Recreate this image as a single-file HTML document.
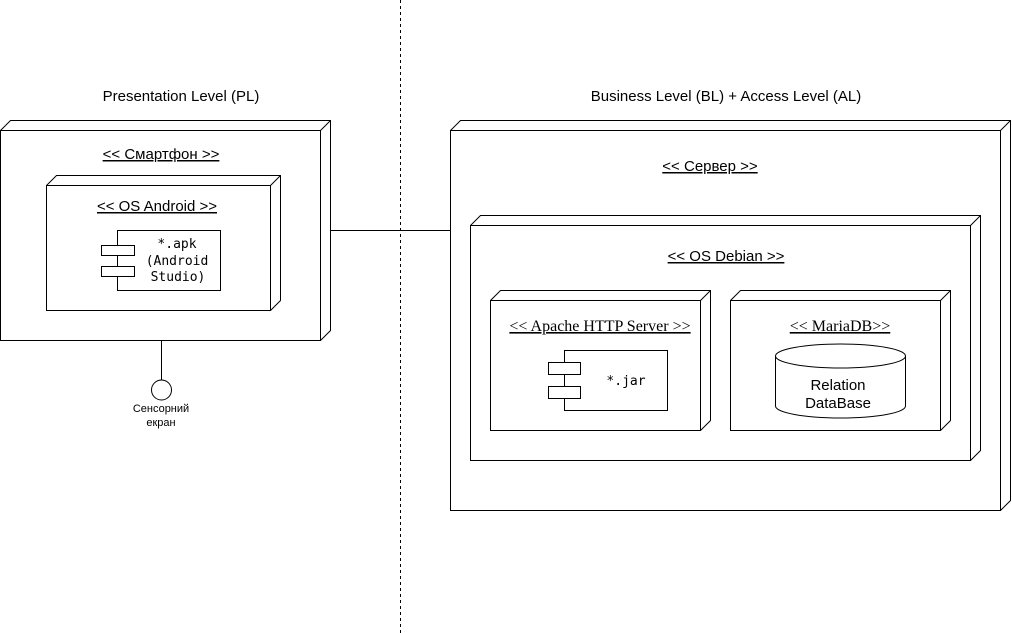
<!DOCTYPE html>
<html><head><meta charset="utf-8"><style>
html,body{margin:0;padding:0;background:#fff;}
svg{display:block;}
text{font-family:"Liberation Sans",sans-serif;fill:#000;}
.m{font-family:"DejaVu Sans Mono","Liberation Mono",monospace;}
.s{font-family:"Liberation Serif",serif;}
</style></head><body>
<svg width="1012" height="633" viewBox="0 0 1012 633" xmlns="http://www.w3.org/2000/svg">
<g fill="none" stroke="#000" stroke-width="1">
<line x1="400.5" y1="0" x2="400.5" y2="633" stroke-dasharray="3,3"/>
<line x1="330" y1="230.5" x2="450" y2="230.5"/>
<line x1="161.5" y1="340" x2="161.5" y2="380"/>
<circle cx="161.5" cy="390" r="10"/>
<rect x="0.5" y="130.5" width="320" height="210"/>
<polyline points="0.5,130.5 10.5,120.5 330.5,120.5 330.5,330.5 320.5,340.5"/>
<line x1="320.5" y1="130.5" x2="330.5" y2="120.5"/>
<rect x="46.5" y="185.5" width="224" height="125"/>
<polyline points="46.5,185.5 56.5,175.5 280.5,175.5 280.5,300.5 270.5,310.5"/>
<line x1="270.5" y1="185.5" x2="280.5" y2="175.5"/>
<rect x="117.5" y="230.5" width="103" height="60"/>
<rect x="101.5" y="245.5" width="33" height="10" fill="#fff"/>
<rect x="101.5" y="266.5" width="33" height="10" fill="#fff"/>
<rect x="450.5" y="130.5" width="550" height="380"/>
<polyline points="450.5,130.5 460.5,120.5 1010.5,120.5 1010.5,500.5 1000.5,510.5"/>
<line x1="1000.5" y1="130.5" x2="1010.5" y2="120.5"/>
<rect x="470.5" y="225.5" width="500" height="235"/>
<polyline points="470.5,225.5 480.5,215.5 980.5,215.5 980.5,450.5 970.5,460.5"/>
<line x1="970.5" y1="225.5" x2="980.5" y2="215.5"/>
<rect x="490.5" y="300.5" width="210" height="130"/>
<polyline points="490.5,300.5 500.5,290.5 710.5,290.5 710.5,420.5 700.5,430.5"/>
<line x1="700.5" y1="300.5" x2="710.5" y2="290.5"/>
<rect x="564.5" y="350.5" width="103" height="60"/>
<rect x="548.5" y="362.5" width="32" height="12" fill="#fff"/>
<rect x="548.5" y="386.5" width="32" height="12" fill="#fff"/>
<rect x="730.5" y="300.5" width="210" height="130"/>
<polyline points="730.5,300.5 740.5,290.5 950.5,290.5 950.5,420.5 940.5,430.5"/>
<line x1="940.5" y1="300.5" x2="950.5" y2="290.5"/>
<ellipse cx="840.5" cy="356" rx="65" ry="12"/>
<line x1="775.5" y1="356" x2="775.5" y2="406"/>
<line x1="905.5" y1="356" x2="905.5" y2="406"/>
<path d="M775.5,406 A65,12 0 0 0 905.5,406"/>
</g>
<g font-size="15" text-anchor="middle">
<text x="181" y="101">Presentation Level (PL)</text>
<text x="726" y="101">Business Level (BL) + Access Level (AL)</text>
<text x="161" y="159" text-decoration="underline">&lt;&lt; Смартфон &gt;&gt;</text>
<text x="157" y="211" text-decoration="underline">&lt;&lt; OS Android &gt;&gt;</text>
<text x="710" y="171" text-decoration="underline">&lt;&lt; Сервер &gt;&gt;</text>
<text x="726" y="261" text-decoration="underline">&lt;&lt; OS Debian &gt;&gt;</text>
<text class="s" x="600" y="331" font-size="16" text-decoration="underline">&lt;&lt; Apache HTTP Server &gt;&gt;</text>
<text class="s" x="840" y="331" font-size="16" text-decoration="underline">&lt;&lt; MariaDB&gt;&gt;</text>
<text x="838" y="390">Relation</text>
<text x="838" y="408">DataBase</text>
</g>
<g font-size="13" text-anchor="middle">
<text class="m" x="177" y="248">*.apk</text>
<text class="m" x="177" y="265">(Android</text>
<text class="m" x="178" y="281">Studio)</text>
<text class="m" x="626" y="385">*.jar</text>
</g>
<g font-size="11" text-anchor="middle">
<text x="161" y="412">Сенсорний</text>
<text x="161" y="426">екран</text>
</g>
</svg>
</body></html>
